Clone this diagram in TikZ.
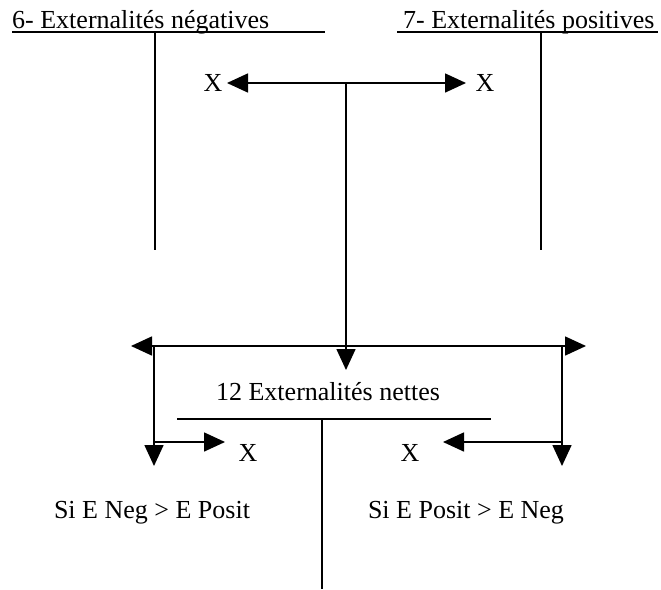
\documentclass[tikz,border=0pt]{standalone}
\usepackage{fontspec}
\setmainfont{Liberation Serif}
\usetikzlibrary{arrows.meta, positioning}

\begin{document}
\begin{tikzpicture}[x=1pt, y=-1pt,
  lbl/.style={font=\fontsize{26}{30}\selectfont, inner sep=0pt},
  rule/.style={line width=1.6pt},
  arr/.style={line width=1.6pt, -{Triangle[length=21pt, width=19pt]}},
  dblarr/.style={line width=1.6pt,
    {Triangle[length=21pt, width=19pt]}-{Triangle[length=21pt, width=19pt]}}
]
  \useasboundingbox (0,0) rectangle (661,589);

  % Titles
  \node[lbl, anchor=base west] (neg) at (12,28) {6- Externalités négatives};
  \node[lbl, anchor=base west] (pos) at (403,28) {7- Externalités positives};
  \coordinate (negL) at (12,32);  \coordinate (negR) at (325,32);
  \coordinate (posL) at (397,32); \coordinate (posR) at (658,32);
  \draw[rule] (negL) -- (negR);
  \draw[rule] (posL) -- (posR);
  \coordinate (negT) at (155,32);  \coordinate (negB) at (155,250);
  \coordinate (posT) at (541,32);  \coordinate (posB) at (541,250);
  \draw[rule] (negT) -- (negB);
  \draw[rule] (posT) -- (posB);

  % Top arrows
  \coordinate (top) at (346,83);
  \coordinate (tipL) at (227,83);
  \coordinate (tipR) at (466,83);
  \node[lbl] (xl) at (213,83) {X};
  \node[lbl] (xr) at (485,83) {X};
  \draw[arr] (top) -- (tipL);
  \draw[arr] (top) -- (tipR);

  % Central flow
  \coordinate (mid) at (346,370);
  \draw[arr] (top) -- (mid);
  \coordinate (hl) at (131,346);
  \coordinate (hr) at (586,346);
  \draw[dblarr] (hl) -- (hr);

  % Side branches
  \coordinate (lT) at (154,346); \coordinate (lB) at (154,466);
  \coordinate (rT) at (562,346); \coordinate (rB) at (562,466);
  \draw[arr] (lT) -- (lB);
  \draw[arr] (rT) -- (rB);
  \coordinate (lbr) at (154,442); \coordinate (lbrT) at (225,442);
  \coordinate (rbr) at (562,442); \coordinate (rbrT) at (443,442);
  \draw[arr] (lbr) -- (lbrT);
  \draw[arr] (rbr) -- (rbrT);
  \node[lbl] (xbl) at (248,453) {X};
  \node[lbl] (xbr) at (410,453) {X};

  % Net externalities
  \node[lbl] (net) at (328,392) {12 Externalités nettes};
  \coordinate (netL) at (177,419); \coordinate (netR) at (491,419);
  \draw[rule] (netL) -- (netR);
  \coordinate (netT) at (322,419); \coordinate (netB) at (322,589);
  \draw[rule] (netT) -- (netB);

  % Conditions
  \node[lbl] (cneg) at (152,513) {Si E Neg > E Posit};
  \node[lbl] (cpos) at (466,513) {Si E Posit > E Neg};
\end{tikzpicture}
\end{document}
